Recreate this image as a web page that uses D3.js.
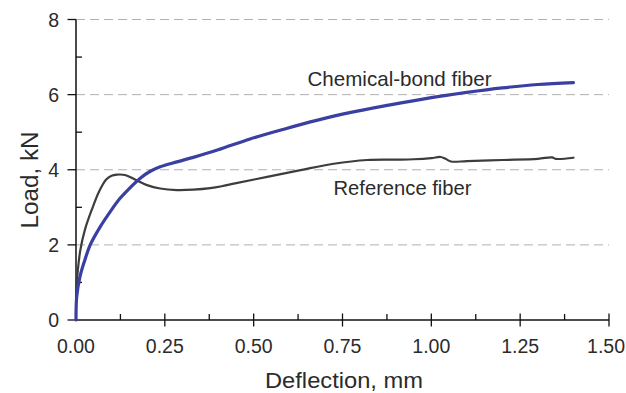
<!DOCTYPE html>
<html>
<head>
<meta charset="utf-8">
<script src="https://cdn.jsdelivr.net/npm/d3@7"></script>
<style>
  html, body { margin: 0; padding: 0; background: #fff; }
  svg { display: block; }
  text { font-family: "Liberation Sans", Arial, sans-serif; fill: #2b2b2b; }
</style>
</head>
<body>
<svg id="chart" width="626" height="393"></svg>
<script>
// Load–deflection curves (deflection in mm, load in kN)
const bondDeflection = [0, 0.002, 0.011, 0.025, 0.04, 0.068, 0.096, 0.124, 0.152, 0.18, 0.209, 0.237, 0.284, 0.33, 0.40, 0.49, 0.585, 0.68, 0.77, 0.88, 1.0, 1.1, 1.2, 1.3, 1.40];
const bondLoad       = [0, 0.62, 1.15, 1.6, 2.0, 2.48, 2.88, 3.24, 3.52, 3.77, 3.96, 4.08, 4.21, 4.33, 4.53, 4.82, 5.08, 5.32, 5.52, 5.72, 5.92, 6.06, 6.18, 6.27, 6.32];

const refDeflection = [0, 0.004, 0.012, 0.025, 0.045, 0.065, 0.085, 0.1, 0.115, 0.138, 0.166, 0.2, 0.237, 0.284, 0.33, 0.378, 0.41, 0.444, 0.538, 0.632, 0.725, 0.82, 0.9, 0.95, 1.0, 1.026, 1.04, 1.055, 1.10, 1.2, 1.3, 1.34, 1.35, 1.40];
const refLoad       = [0.6, 1.2, 1.85, 2.4, 2.95, 3.42, 3.74, 3.84, 3.87, 3.86, 3.74, 3.59, 3.5, 3.46, 3.47, 3.51, 3.56, 3.63, 3.81, 3.99, 4.16, 4.26, 4.27, 4.28, 4.31, 4.34, 4.29, 4.22, 4.23, 4.26, 4.29, 4.33, 4.29, 4.32];

const xMajorTicks = [0, 0.25, 0.5, 0.75, 1.0, 1.25, 1.5];
const xMinorTicks = [0.125, 0.375, 0.625, 0.875, 1.125, 1.375];
const yMajorTicks = [0, 2, 4, 6, 8];
const yMinorTicks = [1, 3, 5, 7];
const gridValues  = [2, 4, 6, 8];

const seriesNames = ["Chemical-bond fiber", "Reference fiber"];
const xTitle = "Deflection, mm";
const yTitle = "Load, kN";

const width = 626;
const svg = d3.select("#chart");
const plotLeft = 76, plotRight = 609, plotTop = 19.5, plotBottom = 320;

const x = d3.scaleLinear().domain([0, 1.5]).range([plotLeft, plotRight]);
const y = d3.scaleLinear().domain([0, 8]).range([plotBottom, plotTop]);

// dashed horizontal gridlines
svg.append("g").selectAll("line").data(gridValues).join("line")
  .attr("x1", x(0)).attr("x2", x(1.5))
  .attr("y1", d => y(d)).attr("y2", d => y(d))
  .attr("stroke", "#b0b0b0").attr("stroke-width", 1)
  .attr("stroke-dasharray", "9,5");

// axes lines
const axisColor = "#111";
svg.append("line").attr("x1", x(0)).attr("x2", x(1.5)).attr("y1", y(0)).attr("y2", y(0))
  .attr("stroke", axisColor).attr("stroke-width", 1.5);
svg.append("line").attr("x1", x(0)).attr("x2", x(0)).attr("y1", y(0)).attr("y2", y(8))
  .attr("stroke", axisColor).attr("stroke-width", 1.5);

// x ticks: major cross the axis, minor point inward
svg.append("g").selectAll("line").data(xMajorTicks.slice(1)).join("line")
  .attr("x1", d => x(d)).attr("x2", d => x(d))
  .attr("y1", y(0) - 6.5).attr("y2", y(0) + 6.5)
  .attr("stroke", axisColor).attr("stroke-width", 1.3);
svg.append("g").selectAll("line").data(xMinorTicks).join("line")
  .attr("x1", d => x(d)).attr("x2", d => x(d))
  .attr("y1", y(0) - 6).attr("y2", y(0))
  .attr("stroke", axisColor).attr("stroke-width", 1.3);

// y ticks: major outward, minor inward
svg.append("g").selectAll("line").data(yMajorTicks).join("line")
  .attr("x1", x(0) - 8.5).attr("x2", x(0))
  .attr("y1", d => y(d)).attr("y2", d => y(d))
  .attr("stroke", axisColor).attr("stroke-width", 1.3);
svg.append("g").selectAll("line").data(yMinorTicks).join("line")
  .attr("x1", x(0)).attr("x2", x(0) + 6)
  .attr("y1", d => y(d)).attr("y2", d => y(d))
  .attr("stroke", axisColor).attr("stroke-width", 1.3);

// tick labels (the last one is kept inside the canvas)
svg.append("g").selectAll("text").data(xMajorTicks).join("text")
  .attr("x", d => x(d)).attr("y", 352.5)
  .attr("text-anchor", "middle")
  .attr("font-size", 19.5)
  .text(d => d.toFixed(2))
  .each(function () {
    const half = this.getComputedTextLength() / 2;
    const cx = +this.getAttribute("x");
    if (cx + half > width - 1) this.setAttribute("x", width - 1 - half);
  });
svg.append("g").selectAll("text").data(yMajorTicks).join("text")
  .attr("x", 59).attr("y", d => y(d) + 7)
  .attr("text-anchor", "end")
  .attr("font-size", 19.5)
  .text(d => d);

// axis titles
svg.append("text")
  .attr("x", 344).attr("y", 387.5)
  .attr("text-anchor", "middle")
  .attr("font-size", 22)
  .attr("textLength", 158).attr("lengthAdjust", "spacingAndGlyphs")
  .text(xTitle);
svg.append("text")
  .attr("transform", "translate(37.5,180) rotate(-90)")
  .attr("text-anchor", "middle")
  .attr("font-size", 23)
  .attr("textLength", 97).attr("lengthAdjust", "spacingAndGlyphs")
  .text(yTitle);

// curves
const line = d3.line()
  .x(d => x(d[0])).y(d => y(d[1]))
  .curve(d3.curveCatmullRom.alpha(0.5));

const refPoints = d3.zip(refDeflection, refLoad);
const bondPoints = d3.zip(bondDeflection, bondLoad);

svg.append("path").datum(refPoints)
  .attr("d", line).attr("fill", "none")
  .attr("stroke", "#3d3d3d").attr("stroke-width", 2.2)
  .attr("stroke-linejoin", "round").attr("stroke-linecap", "round");

svg.append("path").datum(bondPoints)
  .attr("d", line).attr("fill", "none")
  .attr("stroke", "#3a3fa2").attr("stroke-width", 3.2)
  .attr("stroke-linejoin", "round").attr("stroke-linecap", "round");

// series labels
svg.append("text")
  .attr("x", 307.5).attr("y", 86)
  .attr("font-size", 21)
  .attr("textLength", 184).attr("lengthAdjust", "spacingAndGlyphs")
  .text(seriesNames[0]);
svg.append("text")
  .attr("x", 333.5).attr("y", 195)
  .attr("font-size", 21)
  .attr("textLength", 138).attr("lengthAdjust", "spacingAndGlyphs")
  .text(seriesNames[1]);
</script>
</body>
</html>
